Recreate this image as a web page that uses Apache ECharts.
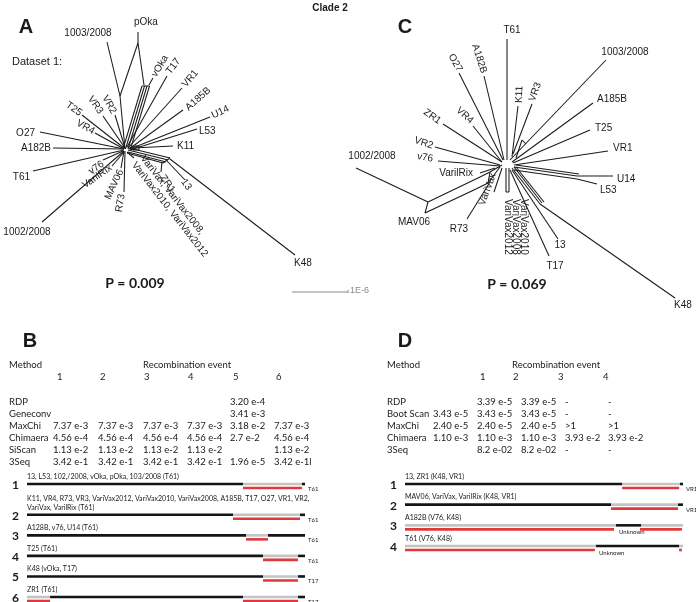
<!DOCTYPE html>
<html><head><meta charset="utf-8">
<script src="https://cdn.jsdelivr.net/npm/echarts@6/dist/echarts.min.js"></script>
<style>html,body{margin:0;padding:0;background:#fff}#c{width:696px;height:602px}</style>
</head><body><div id="c"></div>
<script>
// ---------- DATA ----------
// Split network A (Dataset 1), edges [x1,y1,x2,y2] in network layout units (origin = network centre)
const netA_edges = [
  [0,0,-5,-53],[-5,-53,-18,-107],[-5,-53,13,-106],[13,-106,13,-117],[13,-106,19,-64],
  [17,-63,-2,0],[19.5,-63,0.5,0],[22,-63,3,0],[24.5,-63,5.5,0],[17,-63,24.5,-63],
  [24,-64,28,-71],
  [2,-2,42,-73],[3,-1,57,-61],[4,0,58,-39],[5,0,85,-32],[5,1,72,-20],
  [8,-1,48,-3],[8,-3,14,-3],[14,-3,14,1],[14,1,8,1],[8,1,8,-3],
  [-1,0,-85,-17],[-1,0,-72,-1],[-1,1,-92,22],[-1,2,-83,73],
  [-1,-1,-43,-34],[-1,0,-30,-16],[0,-1,-22,-33],[0,-1,-10,-34],
  [-2,2,-22,11],[-1,3,-13,17],[-1,2,-4,19],[0,2,-1,43],[2,3,9,9],
  [3,1,43,11],[4,-1,45,9],[3,3,41,13],[2,4,38,14],[38,14,45,9],
  [37,13,36,23],[42,12,60,31],[45,10,170,106]
];
const netA_labels = ['pOka','1003/2008','vOka','T17','VR1','A185B','U14','L53','K11','O27','A182B','T61','1002/2008',
  'T25','VR4','VR3','VR2','v76','VarilRix','MAV06','R73','VariVax, VariVax2008,\nVariVax2010, VariVax2012','ZR1','13','K48'];
const netA_labelPos = [[9,-127],[-37,-116],[29,-73],[43,-76],[59,-63],[62,-40],[87,-33],[74,-18],[52,-3],[-90,-16],[-74,-1],[-95,28],[-98,83],
  [-44,-35],[-31,-17],[-24,-36],[-11,-36],[-22,14],[-14,18],[-4,21],[-3,45],[13,11],[37,27],[58,31],[178,114]];

// Split network C (Dataset 2)
const netC_edges = [
  [1,-2,1,-123],[4,-2,100,-102],[6,-5,12,-56],[7,-8,26,-58],[10,-4,16,-22],[16,-22,20,-18],
  [6,0,87,-59],[7,1,84,-32],[8,3,102,-11],
  [8,5,71,14],[8,8,71,17],[10,3,73,12],[71,14,107,14],[71,17,91,22],
  [-2,-2,-22,-86],[-3,-2,-47,-89],[-4,0,-33,-36],[-4,0,-63,-38],[-6,3,-71,-15],[-6,4,-68,-1],
  [-11,6,-26,11],[-4,3,-16,10],[-16,10,-28,16],[-28,16,-78,40],[-78,40,-81,51],[-81,51,-30,27],[-30,27,-18,21],[-18,21,-16,10],[-6,5,-18,21],
  [-78,40,-150,6],[-16,20,-39,57],[-4,6,-12,30],[0,6,0,30],[3,6,3,30],[0,30,3,30],
  [6,8,52,77],[4,8,43,94],[6,6,34,42],[8,5,36,41],[10,5,38,40],[34,42,169,136]
];
const netC_labels = ['T61','1003/2008','O27','A182B','K11','VR3','A185B','T25','VR1','U14','L53','ZR1','VR4','VR2','v76','VarilRix',
  'MAV06','R73','VariVax','VariVax2010\nVariVax2008\nVariVax2012','13','T17','K48','1002/2008'];
const netC_labelPos = [[6,-132],[119,-110],[-46,-91],[-22,-89],[13,-59],[26,-61],[91,-63],[89,-34],[107,-14],[111,17],[94,28],[-66,-40],[-34,-40],
  [-73,-16],[-73,-3],[-33,11],[-92,60],[-47,67],[-24,43],[10,37],[54,83],[49,104],[177,143],[-134,-6]];

const pValueA = 'P = 0.009', pValueC = 'P = 0.069', scaleLabel = '1E-6';

// Table B
const methodsB = ['RDP','Geneconv','MaxChi','Chimaera','SiScan','3Seq'];
const eventNumsB = ['1','2','3','4','5','6'];
const pvalB = [
  ['','','','','3.20 e-4',''],
  ['','','','','3.41 e-3',''],
  ['7.37 e-3','7.37 e-3','7.37 e-3','7.37 e-3','3.18 e-2','7.37 e-3'],
  ['4.56 e-4','4.56 e-4','4.56 e-4','4.56 e-4','2.7 e-2','4.56 e-4'],
  ['1.13 e-2','1.13 e-2','1.13 e-2','1.13 e-2','','1.13 e-2'],
  ['3.42 e-1','3.42 e-1','3.42 e-1','3.42 e-1','1.96 e-5','3.42 e-1l']
];
// Recombination events B: genome segments in % [start,end]
const eventLabelsB = ['13, L53, 102,/2008, vOka, pOka, 103/2008 (T61)',
  'K11, VR4, R73, VR3, VariVax2012, VariVax2010, VariVax2008, A185B, T17, O27, VR1, VR2,\nVariVax, VarilRix (T61)',
  'A128B, v76, U14 (T61)','T25 (T61)','K48 (vOka, T17)','ZR1 (T61)'];
const parentB = ['T61','T61','T61','T61','T17','T17'];
const blackB = [[[0,77.7],[98.9,100]],[[0,74.1],[98.2,100]],[[0,78.8],[86.7,100]],[[0,84.9],[97.5,100]],[[0,84.9],[97.5,100]],[[8.3,77.7],[97.5,100]]];
const grayB  = [[[77.7,98.9]],[[74.1,98.2]],[[78.8,86.7]],[[84.9,97.5]],[[84.9,97.5]],[[0,8.3],[77.7,97.5]]];
const redB   = [[[77.7,98.9]],[[74.1,98.2]],[[78.8,86.7]],[[84.9,97.5]],[[84.9,97.5]],[[0,8.3],[77.7,97.5]]];

// Table D
const methodsD = ['RDP','Boot Scan','MaxChi','Chimaera','3Seq'];
const eventNumsD = ['1','2','3','4'];
const pvalD = [
  ['','3.39 e-5','3.39 e-5','-','-'],
  ['3.43 e-5','3.43 e-5','3.43 e-5','-','-'],
  ['2.40 e-5','2.40 e-5','2.40 e-5','>1','>1'],
  ['1.10 e-3','1.10 e-3','1.10 e-3','3.93 e-2','3.93 e-2'],
  ['','8.2 e-02','8.2 e-02','-','-']
];
const eventLabelsD = ['13, ZR1 (K48, VR1)','MAV06, VariVax, VarilRix (K48, VR1)','A182B (V76, K48)','T61 (V76, K48)'];
const parentD = ['VR1','VR1','',''];
const unknownD = ['','','Unknown','Unknown'];
const blackD = [[[0,78.1],[98.9,100]],[[0,74.1],[98.2,100]],[[75.9,84.9]],[[68.7,98.6]]];
const grayD  = [[[78.1,98.9]],[[74.1,98.2]],[[0,75.9],[84.9,100]],[[0,68.7],[98.6,100]]];
const redD   = [[[78.1,98.6]],[[74.1,98.2]],[[0,75.2],[84.5,99.6]],[[0,68.3],[98.6,99.6]]];

// ---------- RENDER ----------
const TREE_FONT = '10px "Liberation Sans", Arial, sans-serif';
const MY = '"Lato", "Liberation Sans", sans-serif';
const chart = echarts.init(document.getElementById('c'), null, {renderer:'canvas'});

// label styles (rotation in degrees clockwise, alignment)
const styleA = {'vOka':[-59,'left'],'T17':[-52,'left'],'VR1':[-50,'left'],'A185B':[-42,'left'],'U14':[-25,'left'],'L53':[0,'left'],'K11':[0,'left'],
  'pOka':[0,'left'],'1003/2008':[0,'center'],'O27':[0,'right'],'A182B':[0,'right'],'T61':[0,'right'],'1002/2008':[0,'center'],
  'T25':[35,'right'],'VR4':[30,'right'],'VR3':[55,'right'],'VR2':[60,'right'],'v76':[-35,'right'],'VarilRix':[-35,'right'],
  'MAV06':[-65,'right'],'R73':[-80,'right'],'ZR1':[55,'left'],'13':[55,'left'],'K48':[0,'center']};
styleA[netA_labels[21]] = [52,'left'];
const styleC = {'T61':[0,'center'],'1003/2008':[0,'center'],'O27':[60,'right'],'A182B':[72,'right'],'K11':[-88,'left'],'VR3':[-70,'left'],
  'A185B':[0,'left'],'T25':[0,'left'],'VR1':[0,'left'],'U14':[0,'left'],'L53':[0,'left'],'ZR1':[35,'right'],'VR4':[42,'right'],
  'VR2':[18,'right'],'v76':[10,'right'],'VarilRix':[0,'right'],'MAV06':[0,'center'],'R73':[0,'center'],'VariVax':[-70,'left'],
  '13':[0,'center'],'T17':[0,'center'],'K48':[0,'center'],'1002/2008':[0,'center']};
styleC[netC_labels[19]] = [90,'left'];

function edgeSeries(edges, gi){
  return {type:'custom', coordinateSystem:'cartesian2d', xAxisIndex:gi, yAxisIndex:gi, silent:true,
    dimensions:['x1','y1','x2','y2'], encode:{x:[0,2], y:[1,3]}, data:edges,
    renderItem:function(p, api){
      const a = api.coord([api.value(0), api.value(1)]), b = api.coord([api.value(2), api.value(3)]);
      return {type:'line', shape:{x1:a[0],y1:a[1],x2:b[0],y2:b[1]}, style:{stroke:'#1a1a1a', lineWidth:1.05}};
    }};
}
function labelSeries(labels, pos, styles, gi){
  return {type:'custom', coordinateSystem:'cartesian2d', xAxisIndex:gi, yAxisIndex:gi, silent:true,
    data:pos, renderItem:function(p, api){
      const name = labels[p.dataIndex];
      const st = styles[name] || [0,'left'];
      const c = api.coord([api.value(0), api.value(1)]);
      return {type:'text', x:c[0], y:c[1], rotation:-st[0]*Math.PI/180,
        style:{text:name, font:TREE_FONT, fill:'#1a1a1a', align:st[1], verticalAlign:'middle', lineHeight:name.indexOf('\n')>=0 && gi===1 ? 8 : 11}};
    }};
}
function rowPositions(labels){
  const out = []; let y = 0;
  labels.forEach((l,i)=>{ if(i>0) y += 1 + (l.split('\n').length-1)*0.5; out.push(y); });
  return out;
}
function barSeries(gi, rows, black, gray, red, labels, nums, parents, unknowns){
  return {type:'custom', coordinateSystem:'cartesian2d', xAxisIndex:gi, yAxisIndex:gi, silent:true,
    data:rows.map(r=>[0,r]), renderItem:function(p, api){
      const i = p.dataIndex, r = api.value(1);
      const kids = [];
      const seg = (list, col, off) => list.forEach(s=>{
        const a = api.coord([s[0], r]), b = api.coord([s[1], r]);
        kids.push({type:'rect', shape:{x:a[0], y:a[1]+off-1.3, width:b[0]-a[0], height:2.6}, style:{fill:col}});
      });
      seg(gray[i], '#c4c4c4', 0);
      seg(black[i], '#151515', 0);
      seg(red[i], '#e0393b', 4);
      const L = api.coord([0, r]), R = api.coord([100, r]);
      kids.push({type:'text', x:L[0]-15, y:L[1]+1, style:{text:nums[i], font:'bold 12px '+MY, fill:'#1a1a1a', align:'left', verticalAlign:'middle'}});
      kids.push({type:'text', x:L[0], y:L[1]-3, style:{text:labels[i], font:'7px '+MY, fill:'#1a1a1a', align:'left', verticalAlign:'bottom', lineHeight:9}});
      if (parents[i]) kids.push({type:'text', x:R[0]+3, y:R[1]+5, style:{text:parents[i], font:'6px '+MY, fill:'#1a1a1a', align:'left', verticalAlign:'middle'}});
      if (unknowns && unknowns[i]) {
        const u = api.coord([black[i][0][0], r]);
        kids.push({type:'text', x:u[0]+3, y:u[1]+7, style:{text:unknowns[i], font:'6px '+MY, fill:'#1a1a1a', align:'left', verticalAlign:'middle'}});
      }
      return {type:'group', children:kids};
    }};
}

const rowsB = rowPositions(eventLabelsB), rowsD = rowPositions(eventLabelsD);
const hidden = {show:false};
function vAxis(gi, min, max, inverse){ return {type:'value', gridIndex:gi, min:min, max:max, inverse:!!inverse, show:false, splitLine:hidden}; }

// texts via graphic
const g = [];
function txt(x, y, t, font, align, fill){ g.push({type:'text', x:x, y:y, silent:true, style:{text:t, font:font, fill:fill||'#1a1a1a', align:align||'left', verticalAlign:'middle'}}); }
txt(330, 8, 'Clade 2', 'bold 10px "Liberation Sans", Arial', 'center');
txt(26, 27, 'A', 'bold 20px "Liberation Sans", Arial', 'center');
txt(405, 27, 'C', 'bold 20px "Liberation Sans", Arial', 'center');
txt(30, 341, 'B', 'bold 20px "Liberation Sans", Arial', 'center');
txt(405, 341, 'D', 'bold 20px "Liberation Sans", Arial', 'center');
txt(12, 62, 'Dataset 1:', '11px "Liberation Sans", Arial');
txt(135, 283, pValueA, 'bold 14px '+MY, 'center');
txt(517, 284, pValueC, 'bold 14px '+MY, 'center');
txt(350, 291, scaleLabel, '9px "Liberation Sans", Arial', 'left', '#8a8a8a');
g.push({type:'line', silent:true, shape:{x1:292, y1:292, x2:348, y2:292}, style:{stroke:'#8a8a8a', lineWidth:1}});
g.push({type:'line', silent:true, shape:{x1:348, y1:290, x2:348, y2:293}, style:{stroke:'#8a8a8a', lineWidth:1}});

const TF = '9.5px '+MY;
// Table B
txt(9, 365, 'Method', TF); txt(143, 365, 'Recombination event', TF);
const colB = [53, 98, 143, 187, 230, 274], numXB = [57, 100, 144, 188, 233, 276];
eventNumsB.forEach((n,i)=>txt(numXB[i], 377, n, TF));
methodsB.forEach((m,r)=>{ const y = 402 + r*12; txt(9, y, m, TF); pvalB[r].forEach((v,c)=>{ if(v) txt(colB[c], y, v, TF); }); });
// Table D
txt(387, 365, 'Method', TF); txt(512, 365, 'Recombination event', TF);
const colD = [433, 477, 521, 565, 608], numXD = [480, 513, 558, 603];
eventNumsD.forEach((n,i)=>txt(numXD[i], 377, n, TF));
methodsD.forEach((m,r)=>{ const y = 402 + r*12; txt(387, y, m, TF); pvalD[r].forEach((v,c)=>{ if(v) txt(colD[c], y, v, TF); }); });

chart.setOption({
  animation:false,
  grid:[
    {left:0, top:0, width:360, height:300},
    {left:340, top:0, width:356, height:320},
    {left:27, top:484, width:278, height:113},
    {left:405, top:484, width:278, height:62}
  ],
  xAxis:[vAxis(0,-125,235), vAxis(1,-166,190), vAxis(2,0,100), vAxis(3,0,100)],
  yAxis:[vAxis(0,-149,151,true), vAxis(1,-162,158,true), vAxis(2,0,rowsB[rowsB.length-1],true), vAxis(3,0,rowsD[rowsD.length-1],true)],
  graphic:g,
  series:[
    edgeSeries(netA_edges,0), labelSeries(netA_labels,netA_labelPos,styleA,0),
    edgeSeries(netC_edges,1), labelSeries(netC_labels,netC_labelPos,styleC,1),
    barSeries(2, rowsB, blackB, grayB, redB, eventLabelsB, eventNumsB, parentB, null),
    barSeries(3, rowsD, blackD, grayD, redD, eventLabelsD, eventNumsD, parentD, unknownD)
  ]
});
</script></body></html>
